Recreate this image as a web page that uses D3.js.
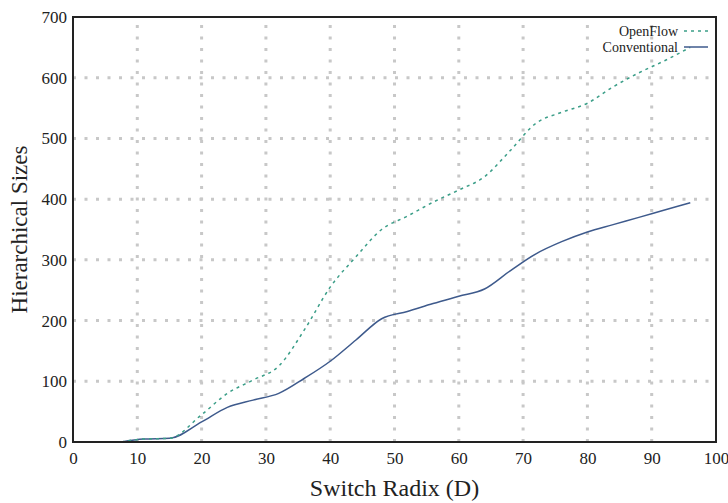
<!DOCTYPE html>
<html><head><meta charset="utf-8">
<script src="https://cdn.jsdelivr.net/npm/d3@7"></script>
<style>body{margin:0;background:#fff}svg{display:block}text{font-family:"Liberation Serif","DejaVu Serif",serif;fill:#222}</style>
</head><body>
<script>
const radix = [7.5,11,15,20,24,28,32,36,40,44,48,52,56,60,64,68,72,76,80,84,88,92,96];
const openflow = [0,5,6,45,80,102,125,185,255,305,350,372,395,415,437,480,525,543,558,585,608,628,650];
const conventional = [0,5,6,33,57,69,80,105,133,168,203,215,228,240,252,282,310,330,346,358,370,382,394];
const xTicks = [0,10,20,30,40,50,60,70,80,90,100];
const yTicks = [0,100,200,300,400,500,600,700];
const seriesNames = ["OpenFlow","Conventional"];

const W=728,H=503, m={l:73,r:12,t:17,b:61};
const svg=d3.select("body").append("svg").attr("width",W).attr("height",H);
const x=d3.scaleLinear().domain([0,100]).range([m.l,W-m.r]);
const y=d3.scaleLinear().domain([0,700]).range([H-m.b,m.t]);

const grid=svg.append("g").attr("stroke","#c8c8c8").attr("stroke-width",3).attr("stroke-dasharray","3,8.5");
xTicks.slice(1,-1).forEach(v=>grid.append("line").attr("x1",x(v)).attr("x2",x(v)).attr("y1",y(0)).attr("y2",y(700)));
yTicks.slice(1,-1).forEach(v=>grid.append("line").attr("x1",x(0)).attr("x2",x(100)).attr("y1",y(v)).attr("y2",y(v)));

const xAxis=svg.append("g").attr("transform",`translate(0,${y(0)})`).call(d3.axisBottom(x).tickValues(xTicks).tickSize(0).tickPadding(10));
const yAxis=svg.append("g").attr("transform",`translate(${x(0)},0)`).call(d3.axisLeft(y).tickValues(yTicks).tickSize(0).tickPadding(6));
[xAxis,yAxis].forEach(a=>{a.select(".domain").remove();a.selectAll("text").attr("font-size",17).attr("font-family","Liberation Serif, serif").attr("fill","#222");});

const data=radix.map((r,i)=>({r,o:openflow[i],c:conventional[i]}));
const line=k=>d3.line().x(d=>x(d.r)).y(d=>y(d[k])).curve(d3.curveMonotoneX);
svg.append("path").datum(data).attr("d",line("c")).attr("fill","none").attr("stroke","#3e5a8c").attr("stroke-width",1.5);
svg.append("path").datum(data).attr("d",line("o")).attr("fill","none").attr("stroke","#3b9e88").attr("stroke-width",1.5).attr("stroke-dasharray","3,4");

svg.append("rect").attr("x",x(0)).attr("y",y(700)).attr("width",x(100)-x(0)).attr("height",y(0)-y(700)).attr("fill","none").attr("stroke","#222").attr("stroke-width",2);

// legend
const lg=svg.append("g");
const ly=[31,47];
seriesNames.forEach((n,i)=>{
  lg.append("text").attr("x",678).attr("y",ly[i]).attr("dy","0.35em").attr("text-anchor","end").attr("font-size",14).text(n);
  lg.append("line").attr("x1",684).attr("x2",708).attr("y1",ly[i]).attr("y2",ly[i])
    .attr("stroke",i?"#3e5a8c":"#3b9e88").attr("stroke-width",1.5).attr("stroke-dasharray",i?null:"3,4");
});

svg.append("text").attr("x",(x(0)+x(100))/2).attr("y",496).attr("text-anchor","middle").attr("font-size",24).text("Switch Radix (D)");
svg.append("text").attr("transform",`translate(27,${(y(0)+y(700))/2}) rotate(-90)`).attr("text-anchor","middle").attr("font-size",23).text("Hierarchical Sizes");
</script>
</body></html>
